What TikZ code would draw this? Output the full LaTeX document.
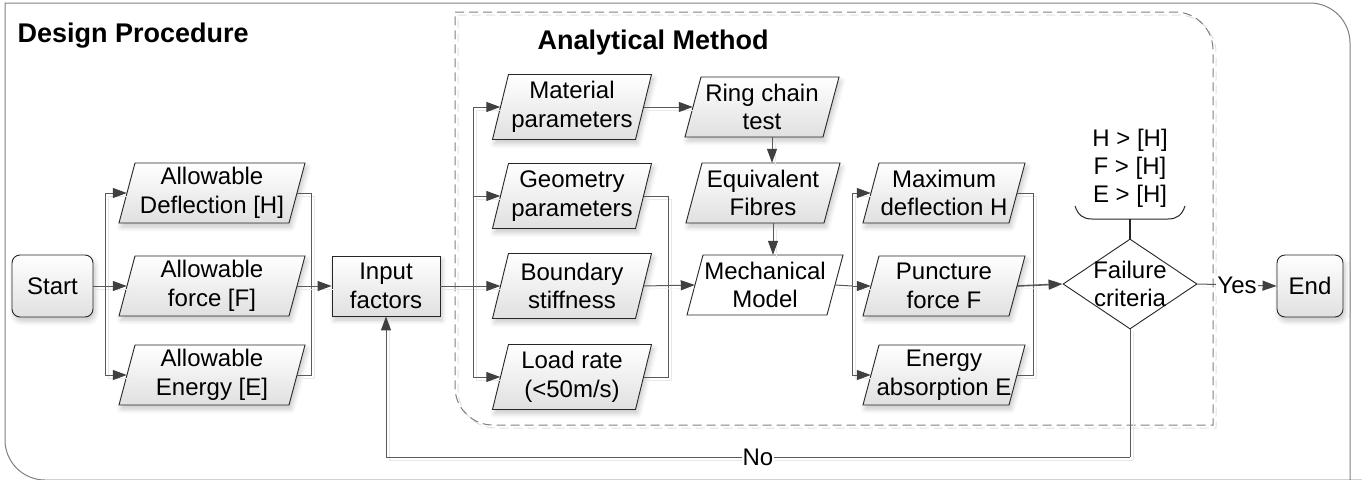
\documentclass[tikz,border=0pt]{standalone}
\usepackage{fontspec}
\setmainfont{Liberation Sans}
\usetikzlibrary{arrows.meta,shapes.geometric,shadows.blur,calc}

\definecolor{linegray}{HTML}{5A5A5A}
\definecolor{tipgray}{HTML}{404040}
\definecolor{framegray}{HTML}{7F7F7F}
\definecolor{fillbottom}{HTML}{E0E0E0}

% half of the horizontal slant of the data (parallelogram) boxes
\newcommand\slantpx{8}

\tikzset{
  every node/.style={font=\fontsize{24}{28.5}\selectfont, text=black},
  softshadow/.style={blur shadow={shadow xshift=2pt, shadow yshift=-4pt,
      shadow blur radius=5pt, shadow blur steps=6, shadow opacity=22}},
  boxfill/.style={top color=white, bottom color=fillbottom, draw=black!85,
      line width=0.9pt, softshadow},
  plainfill/.style={fill=white, draw=black!85, line width=0.9pt},
  paratext/.style={draw=none, align=center, inner sep=0pt},
  termbox/.style={boxfill, rounded corners=8pt, inner sep=0pt, align=center},
  procbox/.style={boxfill, inner sep=0pt, align=center},
  flow/.style={draw=linegray, line width=1pt,
      preaction={draw=black!9, arrows=-, transform canvas={shift={(3pt,-3pt)}}}},
  arr/.style={flow, -{Triangle[length=14pt,width=10pt,color=tipgray]}},
  frame/.style={draw=framegray, line width=1pt},
  groupframe/.style={draw=framegray, line width=1pt, dash pattern=on 9pt off 5pt},
  title/.style={font=\fontsize{27}{31}\selectfont\bfseries, anchor=base west},
}

% data box: [style]{name}{x}{y}{side length}{height}{text}
\newcommand\parabox[7][boxfill]{%
  \path[#1] ($(#3,#4)+({-#5/2-\slantpx},{#6/2})$)
        -- ($(#3,#4)+({#5/2-\slantpx},{#6/2})$)
        -- ($(#3,#4)+({#5/2+\slantpx},{-#6/2})$)
        -- ($(#3,#4)+({-#5/2+\slantpx},{-#6/2})$) -- cycle;
  \node[paratext, minimum width=#5, minimum height=#6] (#2) at (#3,#4) {#7};%
}

\begin{document}
\begin{tikzpicture}[x=1pt, y=-1pt]
\useasboundingbox (0,0) rectangle (1362,479);

% outer frame of the whole procedure
\draw[frame] (1350,490) -- (1350,43) .. controls (1350,21) and (1332,3) .. (1310,3)
  -- (5,3) -- (5,440) .. controls (5,462) and (23,480) .. (45,480) -- (1370,480);

% group frame of the analytical method, with its faint shadow
\draw[groupframe, draw=black!12, shift={(3,3)}] (455,12) -- (1175,12)
  .. controls (1196,12) and (1213,29) .. (1213,50) -- (1213,425) -- (493,425)
  .. controls (472,425) and (455,408) .. (455,387) -- cycle;
\draw[groupframe] (455,12) -- (1175,12)
  .. controls (1196,12) and (1213,29) .. (1213,50) -- (1213,425) -- (493,425)
  .. controls (472,425) and (455,408) .. (455,387) -- cycle;

\node[title] (tdesign) at (14,42) {Design Procedure};
\node[title] (tanalytic) at (534,49) {Analytical Method};

% terminals and process boxes
\node[termbox, minimum width=81, minimum height=62] (start) at (52.5,286) {Start};
\node[termbox, minimum width=66, minimum height=62] (endn) at (1310,286) {End};
\node[procbox, minimum width=108, minimum height=60] (input) at (386,286) {Input\\factors};

% allowable values
\parabox{allowH}{212}{193}{170}{60}{Allowable\\Deflection [H]}
\parabox{allowF}{212}{286}{170}{60}{Allowable\\force [F]}
\parabox{allowE}{212}{375}{170}{60}{Allowable\\Energy [E]}

% input parameters
\parabox{mat}{572}{107}{143}{65}{Material\\parameters}
\parabox{geo}{572}{196}{143}{65}{Geometry\\parameters}
\parabox{bnd}{572}{286}{143}{65}{Boundary\\stiffness}
\parabox{load}{572}{377}{143}{65}{Load rate\\(<50m/s)}

% model chain
\parabox{ring}{762}{107}{138}{60}{Ring chain\\test}
\parabox{equiv}{763}{193}{138}{60}{Equivalent\\Fibres}
\parabox[plainfill]{mech}{765}{285}{140}{60}{Mechanical\\Model}

% results
\parabox{maxd}{944}{193}{146}{60}{Maximum\\deflection H}
\parabox{punc}{944}{286}{146}{60}{Puncture\\force F}
\parabox{ener}{944}{375}{146}{60}{Energy\\absorption E}

% decision
\node[diamond, plainfill, minimum width=134, minimum height=90, inner sep=0pt,
      label={[align=center]center:Failure\\criteria}] (fail) at (1130,284) {};

% criteria gathered by a brace
\node[align=center, inner sep=0pt, font=\fontsize{24}{28}\selectfont] (crit) at (1130,168)
  {H > [H]\\F > [H]\\E > [H]};
\draw[draw=black!85, line width=1pt] (1075,206) .. controls (1078,215) and (1083,219) .. (1092,219)
  -- (1168,219) .. controls (1177,219) and (1182,215) .. (1185,206);
\coordinate (bracetip) at (1130,219);
\draw[draw=black!85, line width=1.2pt] (bracetip) -- (fail.north);

% junction points of the branching connectors
\coordinate (j1) at (105,286);
\coordinate (j2) at (311,286);
\coordinate (j3) at (473,286);
\coordinate (j4) at (668,286);
\coordinate (j5) at (852,286);
\coordinate (j6) at (1033,286);
\coordinate (fb) at (1130,457);

% start -> allowable values -> input factors
\draw[flow] (start) -- (j1);
\draw[arr] (j1) |- (allowH.west);
\draw[arr] (j1) -- (allowF.west);
\draw[arr] (j1) |- (allowE.west);
\draw[flow] (allowH.east) -| (j2);
\draw[flow] (allowE.east) -| (j2);
\draw[arr] (allowF.east) -- (input.west);

% input factors -> parameters
\draw[flow] (input.east) -- (j3);
\draw[arr] (j3) |- (mat.west);
\draw[arr] (j3) |- (geo.west);
\draw[arr] (j3) -- (bnd.west);
\draw[arr] (j3) |- (load.west);

% parameters -> model
\draw[arr] (mat.east) -- (ring.west);
\draw[arr] ([xshift=10pt]ring.south) -- ([xshift=10pt]ring.south |- equiv.north);
\draw[arr] ([xshift=10pt]equiv.south) -- ([xshift=10pt]equiv.south |- mech.north);
\draw[flow] (geo.east) -| (j4);
\draw[flow] (load.east) -| (j4);
\draw[arr] (bnd.east) -- (mech.west);

% model -> results -> decision
\draw[flow] (mech.east) -- (j5);
\draw[arr] (j5) |- (maxd.west);
\draw[arr] (j5) -- (punc.west);
\draw[arr] (j5) |- (ener.west);
\draw[flow] (maxd.east) -| (j6);
\draw[flow] (ener.east) -| (j6);
\draw[arr, line width=1.6pt] (punc.east) -- (fail.west);

% decision outcomes
\draw[arr] (fail.east) -- node[fill=white, inner sep=1pt] (yes) {Yes} (endn.west);
\draw[flow] (fail.south) -- (fb);
\draw[arr] (fb) -| node[pos=0.25, fill=white, inner sep=1pt] (no) {No} (input.south);
\end{tikzpicture}
\end{document}
